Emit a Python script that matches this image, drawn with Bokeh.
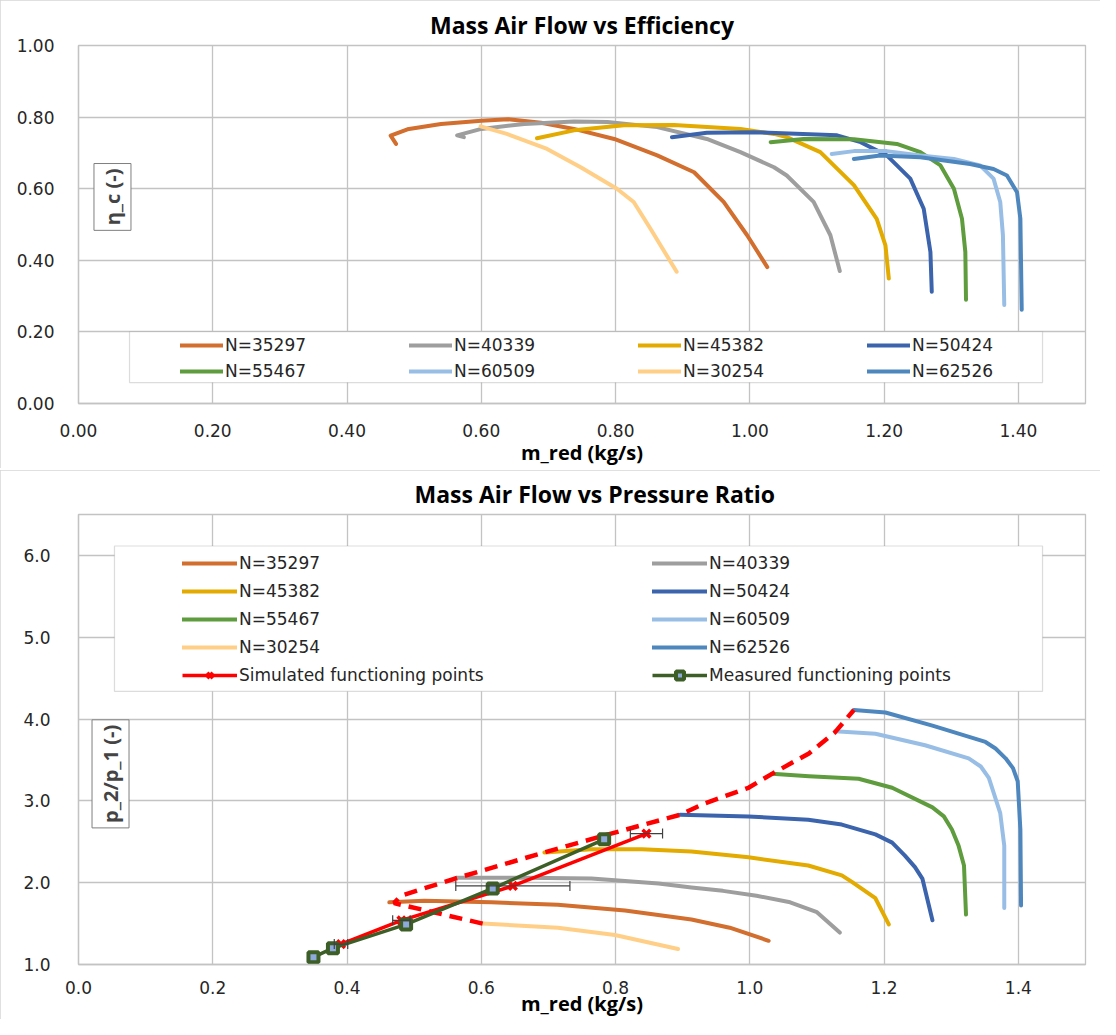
import numpy as np
from bokeh.plotting import figure
from bokeh.models import (Range1d, FixedTicker, NumeralTickFormatter, Legend, LegendItem,
                          BoxAnnotation, Label, Whisker, ColumnDataSource, TeeHead)
from bokeh.layouts import column
from bokeh.embed import file_html
from bokeh.resources import INLINE

# ---------------- data ----------------
speed_labels = ["N=35297", "N=40339", "N=45382", "N=50424",
                "N=55467", "N=60509", "N=30254", "N=62526"]
speed_colors = ["#D26E2E", "#9E9E9E", "#E3AA00", "#3B64AD",
                "#5E9C3E", "#98BEE5", "#FFCF87", "#4E87BE"]

x_ticks = [0.0, 0.2, 0.4, 0.6, 0.8, 1.0, 1.2, 1.4]
eff_ticks = [0.0, 0.2, 0.4, 0.6, 0.8, 1.0]
pr_ticks = [1.0, 2.0, 3.0, 4.0, 5.0, 6.0]

# Efficiency chart (m_red, eta_c)
eff_m_35297 = [0.473, 0.465, 0.49, 0.54, 0.60, 0.64, 0.689, 0.738, 0.798, 0.862, 0.917, 0.961, 0.996, 1.026]
eff_35297 = [0.725, 0.748, 0.766, 0.781, 0.79, 0.794, 0.784, 0.767, 0.739, 0.693, 0.646, 0.563, 0.470, 0.381]
eff_m_40339 = [0.574, 0.564, 0.60, 0.664, 0.738, 0.788, 0.862, 0.936, 0.986, 1.036, 1.055, 1.095, 1.12, 1.134]
eff_40339 = [0.744, 0.749, 0.767, 0.781, 0.788, 0.786, 0.772, 0.739, 0.702, 0.66, 0.637, 0.563, 0.47, 0.37]
eff_m_45382 = [0.683, 0.738, 0.8125, 0.887, 0.986, 1.036, 1.055, 1.105, 1.155, 1.189, 1.202, 1.207]
eff_45382 = [0.741, 0.763, 0.777, 0.778, 0.767, 0.753, 0.744, 0.702, 0.61, 0.516, 0.442, 0.349]
eff_m_50424 = [0.884, 0.936, 1.006, 1.13, 1.165, 1.204, 1.239, 1.259, 1.269, 1.271]
eff_50424 = [0.744, 0.756, 0.758, 0.749, 0.73, 0.693, 0.628, 0.544, 0.423, 0.312]
eff_m_55467 = [1.031, 1.08, 1.155, 1.219, 1.254, 1.284, 1.304, 1.316, 1.321, 1.322]
eff_55467 = [0.73, 0.739, 0.738, 0.725, 0.702, 0.665, 0.60, 0.516, 0.423, 0.29]
eff_m_60509 = [1.122, 1.155, 1.204, 1.254, 1.304, 1.343, 1.363, 1.373, 1.377, 1.379]
eff_60509 = [0.697, 0.705, 0.705, 0.693, 0.683, 0.665, 0.628, 0.563, 0.47, 0.275]
eff_m_30254 = [0.599, 0.638, 0.698, 0.748, 0.802, 0.827, 0.852, 0.891]
eff_30254 = [0.774, 0.753, 0.711, 0.66, 0.60, 0.563, 0.488, 0.368]
eff_m_62526 = [1.155, 1.194, 1.254, 1.328, 1.363, 1.383, 1.398, 1.403, 1.405]
eff_62526 = [0.683, 0.693, 0.688, 0.669, 0.655, 0.637, 0.59, 0.516, 0.262]

# Pressure-ratio chart (m_red, p2/p1)
pr_m_35297 = [0.463, 0.515, 0.615, 0.714, 0.814, 0.913, 0.97, 1.028]
pr_35297 = [1.76, 1.78, 1.76, 1.73, 1.66, 1.55, 1.45, 1.29]
pr_m_40339 = [0.563, 0.664, 0.764, 0.864, 0.913, 0.96, 1.01, 1.06, 1.10, 1.134]
pr_40339 = [2.06, 2.06, 2.05, 1.99, 1.94, 1.90, 1.84, 1.76, 1.64, 1.39]
pr_m_45382 = [0.694, 0.764, 0.839, 0.913, 0.998, 1.087, 1.137, 1.152, 1.187, 1.207]
pr_45382 = [2.37, 2.41, 2.41, 2.38, 2.31, 2.21, 2.09, 2.01, 1.81, 1.49]
pr_m_50424 = [0.896, 0.998, 1.087, 1.137, 1.187, 1.212, 1.231, 1.246, 1.257, 1.272]
pr_50424 = [2.83, 2.81, 2.77, 2.71, 2.59, 2.49, 2.33, 2.19, 2.05, 1.54]
pr_m_55467 = [1.033, 1.088, 1.162, 1.212, 1.272, 1.289, 1.301, 1.311, 1.319, 1.322]
pr_55467 = [3.33, 3.30, 3.27, 3.16, 2.92, 2.81, 2.65, 2.45, 2.21, 1.61]
pr_m_60509 = [1.127, 1.187, 1.261, 1.326, 1.344, 1.356, 1.373, 1.379, 1.379]
pr_60509 = [3.85, 3.82, 3.68, 3.52, 3.42, 3.28, 2.85, 2.45, 1.69]
pr_m_30254 = [0.602, 0.714, 0.799, 0.893]
pr_30254 = [1.50, 1.45, 1.36, 1.19]
pr_m_62526 = [1.155, 1.202, 1.272, 1.351, 1.366, 1.381, 1.392, 1.399, 1.403, 1.404]
pr_62526 = [4.11, 4.08, 3.92, 3.72, 3.64, 3.52, 3.40, 3.24, 2.65, 1.72]

surge_m = [0.602, 0.47, 0.48, 0.565, 0.694, 0.789, 0.896, 0.933, 0.998, 1.033, 1.088, 1.127, 1.155]
surge_pr = [1.50, 1.75, 1.84, 2.06, 2.37, 2.59, 2.83, 2.97, 3.16, 3.33, 3.58, 3.84, 4.11]

sim_m = [0.391, 0.481, 0.647, 0.846]
sim_pr = [1.25, 1.54, 1.96, 2.60]
sim_err = [0.010, 0.013, 0.085, 0.024]

meas_m = [0.350, 0.379, 0.488, 0.617, 0.783]
meas_pr = [1.09, 1.20, 1.49, 1.93, 2.53]

eff_series = [(eff_m_35297, eff_35297), (eff_m_40339, eff_40339), (eff_m_45382, eff_45382),
              (eff_m_50424, eff_50424), (eff_m_55467, eff_55467), (eff_m_60509, eff_60509),
              (eff_m_30254, eff_30254), (eff_m_62526, eff_62526)]
pr_series = [(pr_m_35297, pr_35297), (pr_m_40339, pr_40339), (pr_m_45382, pr_45382),
             (pr_m_50424, pr_50424), (pr_m_55467, pr_55467), (pr_m_60509, pr_60509),
             (pr_m_30254, pr_30254), (pr_m_62526, pr_62526)]

# ---------------- styling helpers ----------------
GRID = "#c3c3c3"
TICK_FONT = "DejaVu Sans"
BOLD_FONT = "Open Sans"
TXT = "#262626"


def style(p, fmt, xt, yt):
    p.title.align = "center"
    p.title.text_font = BOLD_FONT
    p.title.text_font_style = "bold"
    p.title.text_font_size = "23px"
    p.title.text_color = "#000000"
    p.outline_line_color = GRID
    p.outline_line_width = 1.3
    p.xaxis.ticker = FixedTicker(ticks=xt)
    p.yaxis.ticker = FixedTicker(ticks=yt)
    p.xgrid.ticker = FixedTicker(ticks=xt)
    p.ygrid.ticker = FixedTicker(ticks=yt)
    p.xaxis.formatter = NumeralTickFormatter(format=fmt[0])
    p.yaxis.formatter = NumeralTickFormatter(format=fmt[1])
    for ax in (p.xaxis[0], p.yaxis[0]):
        ax.axis_line_color = GRID
        ax.axis_line_width = 1.3
        ax.major_tick_line_color = None
        ax.minor_tick_line_color = None
        ax.major_label_text_font = TICK_FONT
        ax.major_label_text_font_size = "17px"
        ax.major_label_text_color = TXT
    p.xaxis.axis_label_text_font = BOLD_FONT
    p.xaxis.axis_label_text_font_style = "bold"
    p.xaxis.axis_label_text_font_size = "20px"
    p.xaxis.axis_label_text_color = "#000000"
    for g in (p.xgrid[0], p.ygrid[0]):
        g.grid_line_color = GRID
        g.grid_line_width = 1.3
    p.styles = {"outline": "1px solid #d6d6d6", "outline-offset": "-1px"}


def legend(items, loc, ncols, gw, lw, lh):
    return Legend(items=items, location=loc, orientation="horizontal", ncols=ncols,
                  label_text_font=TICK_FONT, label_text_font_size="17px", label_text_color=TXT,
                  glyph_width=gw, glyph_height=20, label_standoff=2, label_width=lw,
                  label_height=lh, spacing=0, padding=0, margin=0,
                  border_line_color=None, background_fill_alpha=0)


def ylabel(p, x, y, text):
    p.add_layout(Label(x=x, y=y, text=text, angle=np.pi / 2,
                       text_align="center", text_baseline="middle",
                       text_font=BOLD_FONT, text_font_style="bold", text_font_size="20px",
                       border_line_color="#7f7f7f", border_line_width=1,
                       background_fill_color="white", padding=5))


# ---------------- figure 1: efficiency ----------------
p1 = figure(width=1100, height=468, output_backend="svg", toolbar_location=None,
            x_range=Range1d(0, 1.5), y_range=Range1d(0, 1.0),
            min_border_left=78, min_border_right=15, min_border_top=45, min_border_bottom=62,
            title="Mass Air Flow vs Efficiency", x_axis_label="m_red (kg/s)")
style(p1, ("0.00", "0.00"), x_ticks, eff_ticks)
p1.xaxis.major_label_standoff = 14
p1.xaxis.axis_label_standoff = -1
p1.yaxis.major_label_standoff = 18

items1 = []
for (mx, my), lab, col in zip(eff_series, speed_labels, speed_colors):
    r = p1.line(mx, my, line_color=col, line_width=4, line_cap="round", line_join="round")
    items1.append(LegendItem(label=lab, renderers=[r]))

p1.add_layout(BoxAnnotation(left=0.076, right=1.436, bottom=0.0585, top=0.2006,
                            fill_color="white", fill_alpha=1.0,
                            line_color="#8c8c8c", line_width=1.2, level="annotation"))
p1.add_layout(legend(items1, (102, 19), 4, 43, 184, 26))
ylabel(p1, 0.0506, 0.577, "η_c (-)")

# ---------------- figure 2: pressure ratio ----------------
p2 = figure(width=1100, height=549, output_backend="svg", toolbar_location=None,
            x_range=Range1d(0, 1.5), y_range=Range1d(1.0, 6.5),
            min_border_left=78, min_border_right=15, min_border_top=40, min_border_bottom=49,
            title="Mass Air Flow vs Pressure Ratio", x_axis_label="m_red (kg/s)")
style(p2, ("0.0", "0.0"), x_ticks, pr_ticks)
p2.title.align = "left"
p2.title.offset = 336
p2.xaxis.major_label_standoff = 10
p2.xaxis.axis_label_standoff = -7
p2.yaxis.major_label_standoff = 22

items2 = []
for (mx, my), lab, col in zip(pr_series, speed_labels, speed_colors):
    r = p2.line(mx, my, line_color=col, line_width=4, line_cap="round", line_join="round")
    items2.append(LegendItem(label=lab, renderers=[r]))

p2.line(surge_m, surge_pr, line_color="#FF0000", line_width=4.5, line_dash="13 8")

sim_lo = list(np.array(sim_m) - np.array(sim_err))
sim_hi = list(np.array(sim_m) + np.array(sim_err))
err_src = ColumnDataSource(data=dict(y=sim_pr, lo=sim_lo, hi=sim_hi))
p2.add_layout(Whisker(source=err_src, base="y", lower="lo", upper="hi", dimension="width",
                      line_color="#404040", line_width=1.2,
                      upper_head=TeeHead(size=10, line_color="#404040", line_width=1.2),
                      lower_head=TeeHead(size=10, line_color="#404040", line_width=1.2),
                      level="glyph"))

sl = p2.line(sim_m, sim_pr, line_color="#FF0000", line_width=3.5)
sx = p2.scatter(sim_m, sim_pr, marker="x", size=11, line_color="#FF0000", line_width=3.5)
ml = p2.line(meas_m, meas_pr, line_color="#3D5F27", line_width=3.5)
ms = p2.scatter(meas_m, meas_pr, marker="square", size=10, line_color="#3D5F27",
                line_width=4, fill_color="#8EA9DB")
items2.append(LegendItem(label="Simulated functioning points", renderers=[sl, sx]))
items2.append(LegendItem(label="Measured functioning points", renderers=[ml, ms]))

p2.add_layout(BoxAnnotation(left=0.0536, right=1.436, bottom=4.337, top=6.115,
                            fill_color="white", fill_alpha=1.0,
                            line_color="#8c8c8c", line_width=1.2, level="annotation"))
p2.add_layout(legend(items2, (104, 275), 2, 55, 413, 28))
ylabel(p2, 0.0477, 3.33, "p_2/p_1 (-)")

layout = column(p1, p2, spacing=2)
open("out.html", "w").write(file_html(layout, INLINE))
